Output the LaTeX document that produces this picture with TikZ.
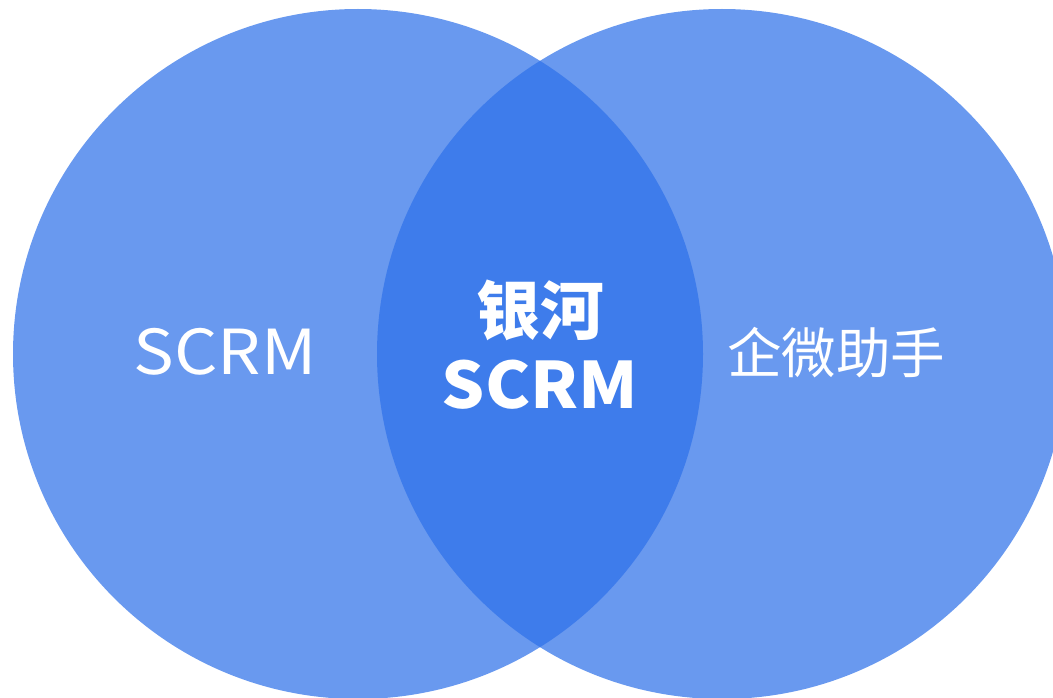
\documentclass[tikz,border=0pt]{standalone}
\usepackage{fontspec}
\setmainfont{Noto Sans CJK SC}
\definecolor{lightblue}{HTML}{6999EF}
\definecolor{darkblue}{HTML}{3E7CEB}
\begin{document}
\begin{tikzpicture}[x=1pt,y=-1pt,
  label text/.style={text=white,inner sep=0pt,align=center}]
\useasboundingbox (0,0) rectangle (1053,698);
\fill[lightblue] (358,354) circle[radius=345];
\fill[lightblue] (722,354) circle[radius=345];
\begin{scope}
  \clip (358,354) circle[radius=345];
  \fill[darkblue] (722,354) circle[radius=345];
\end{scope}
\node[label text,font=\fontsize{62}{64}\selectfont] (left) at (225,352) {\scalebox{1.1}[1]{SCRM}};
\node[label text,font=\fontsize{64}{74}\selectfont\bfseries] (mid) at (540,345) {银河\\\scalebox{1.06}[1]{SCRM}};
\node[label text,font=\fontsize{54.5}{60}\selectfont] (right) at (836,353) {企微助手};
\end{tikzpicture}
\end{document}
